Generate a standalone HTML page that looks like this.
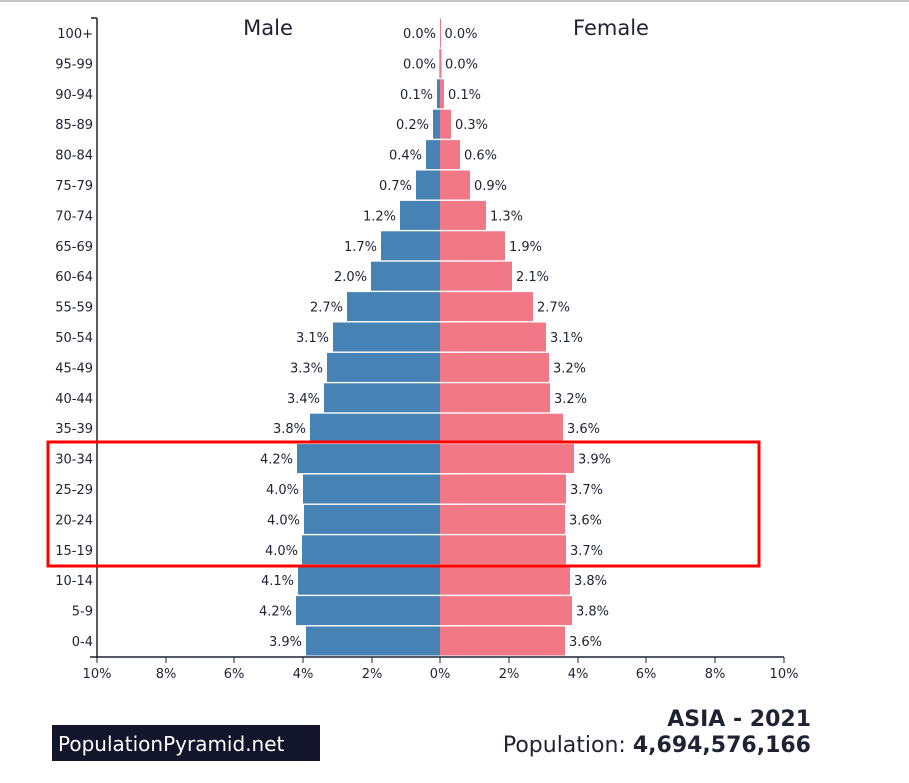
<!DOCTYPE html>
<html><head><meta charset="utf-8"><style>body{margin:0;background:#fff}svg{display:block}text{font-family:"DejaVu Sans","Liberation Sans",sans-serif;fill:#1f2233}.m{fill:#4682b4}.f{fill:#f07887}</style></head><body>
<svg width="909" height="783" xmlns="http://www.w3.org/2000/svg">
<line x1="0" y1="1" x2="909" y2="1" stroke="#c8c8c8" stroke-width="2"/>
<text x="268" y="35" font-size="21" text-anchor="middle">Male</text>
<text x="611" y="35" font-size="21" text-anchor="middle">Female</text>
<g>
<rect class="m" x="439.5" y="48.9" width="0.5" height="29"/><rect class="f" x="440" y="18.5" width="1" height="29"/><rect class="f" x="440" y="48.9" width="1.5" height="29"/>
<rect class="m" x="437" y="79.3" width="3" height="29"/><rect class="f" x="440" y="79.3" width="4" height="29"/>
<rect class="m" x="433" y="109.7" width="7" height="29"/><rect class="f" x="440" y="109.7" width="11" height="29"/>
<rect class="m" x="426" y="140.1" width="14" height="29"/><rect class="f" x="440" y="140.1" width="20" height="29"/>
<rect class="m" x="416" y="170.5" width="24" height="29"/><rect class="f" x="440" y="170.5" width="30" height="29"/>
<rect class="m" x="400" y="200.9" width="40" height="29"/><rect class="f" x="440" y="200.9" width="46" height="29"/>
<rect class="m" x="381" y="231.3" width="59" height="29"/><rect class="f" x="440" y="231.3" width="65" height="29"/>
<rect class="m" x="371" y="261.7" width="69" height="29"/><rect class="f" x="440" y="261.7" width="72" height="29"/>
<rect class="m" x="347" y="292.1" width="93" height="29"/><rect class="f" x="440" y="292.1" width="93" height="29"/>
<rect class="m" x="333" y="322.5" width="107" height="29"/><rect class="f" x="440" y="322.5" width="106" height="29"/>
<rect class="m" x="327" y="352.9" width="113" height="29"/><rect class="f" x="440" y="352.9" width="109" height="29"/>
<rect class="m" x="324" y="383.3" width="116" height="29"/><rect class="f" x="440" y="383.3" width="110" height="29"/>
<rect class="m" x="310" y="413.7" width="130" height="29"/><rect class="f" x="440" y="413.7" width="123" height="29"/>
<rect class="m" x="297" y="444.1" width="143" height="29"/><rect class="f" x="440" y="444.1" width="134" height="29"/>
<rect class="m" x="303" y="474.5" width="137" height="29"/><rect class="f" x="440" y="474.5" width="126" height="29"/>
<rect class="m" x="304" y="504.9" width="136" height="29"/><rect class="f" x="440" y="504.9" width="125" height="29"/>
<rect class="m" x="302" y="535.3" width="138" height="29"/><rect class="f" x="440" y="535.3" width="126" height="29"/>
<rect class="m" x="298" y="565.7" width="142" height="29"/><rect class="f" x="440" y="565.7" width="130" height="29"/>
<rect class="m" x="296" y="596.1" width="144" height="29"/><rect class="f" x="440" y="596.1" width="132" height="29"/>
<rect class="m" x="306" y="626.5" width="134" height="29"/><rect class="f" x="440" y="626.5" width="125" height="29"/>
</g>
<g font-size="13" text-anchor="end">
<text x="436" y="38">0.0%</text><text x="436" y="68.4">0.0%</text><text x="433" y="98.8">0.1%</text><text x="429" y="129.2">0.2%</text><text x="422" y="159.6">0.4%</text><text x="412" y="190">0.7%</text><text x="396" y="220.4">1.2%</text><text x="377" y="250.8">1.7%</text><text x="367" y="281.2">2.0%</text><text x="343" y="311.6">2.7%</text><text x="329" y="342">3.1%</text><text x="323" y="372.4">3.3%</text><text x="320" y="402.8">3.4%</text><text x="306" y="433.2">3.8%</text><text x="293" y="463.6">4.2%</text><text x="299" y="494">4.0%</text><text x="300" y="524.4">4.0%</text><text x="298" y="554.8">4.0%</text><text x="294" y="585.2">4.1%</text><text x="292" y="615.6">4.2%</text><text x="302" y="646">3.9%</text>
</g>
<g font-size="13">
<text x="444.5" y="38">0.0%</text><text x="445" y="68.4">0.0%</text><text x="448" y="98.8">0.1%</text><text x="455" y="129.2">0.3%</text><text x="464" y="159.6">0.6%</text><text x="474" y="190">0.9%</text><text x="490" y="220.4">1.3%</text><text x="509" y="250.8">1.9%</text><text x="516" y="281.2">2.1%</text><text x="537" y="311.6">2.7%</text><text x="550" y="342">3.1%</text><text x="553" y="372.4">3.2%</text><text x="554" y="402.8">3.2%</text><text x="567" y="433.2">3.6%</text><text x="578" y="463.6">3.9%</text><text x="570" y="494">3.7%</text><text x="569" y="524.4">3.6%</text><text x="570" y="554.8">3.7%</text><text x="574" y="585.2">3.8%</text><text x="576" y="615.6">3.8%</text><text x="569" y="646">3.6%</text>
</g>
<g font-size="13" text-anchor="end">
<text x="93" y="38">100+</text><text x="93" y="68.4">95-99</text><text x="93" y="98.8">90-94</text><text x="93" y="129.2">85-89</text><text x="93" y="159.6">80-84</text><text x="93" y="190">75-79</text><text x="93" y="220.4">70-74</text><text x="93" y="250.8">65-69</text><text x="93" y="281.2">60-64</text><text x="93" y="311.6">55-59</text><text x="93" y="342">50-54</text><text x="93" y="372.4">45-49</text><text x="93" y="402.8">40-44</text><text x="93" y="433.2">35-39</text><text x="93" y="463.6">30-34</text><text x="93" y="494">25-29</text><text x="93" y="524.4">20-24</text><text x="93" y="554.8">15-19</text><text x="93" y="585.2">10-14</text><text x="93" y="615.6">5-9</text><text x="93" y="646">0-4</text>
</g>
<line x1="97" y1="18" x2="97" y2="658" stroke="#1f2233" stroke-width="1.5"/>
<line x1="91" y1="18" x2="97" y2="18" stroke="#1f2233" stroke-width="1.5"/>
<line x1="90" y1="657" x2="784" y2="657" stroke="#1f2233" stroke-width="1.5"/>
<g font-size="13" text-anchor="middle">
<text x="97" y="678">10%</text><text x="166" y="678">8%</text><text x="234" y="678">6%</text><text x="303" y="678">4%</text><text x="372" y="678">2%</text><text x="440" y="678">0%</text><text x="509" y="678">2%</text><text x="578" y="678">4%</text><text x="646" y="678">6%</text><text x="715" y="678">8%</text><text x="784" y="678">10%</text>
</g>
<g stroke="#1f2233" stroke-width="1">
<line x1="97" y1="657" x2="97" y2="663"/><line x1="166" y1="657" x2="166" y2="663"/><line x1="234" y1="657" x2="234" y2="663"/><line x1="303" y1="657" x2="303" y2="663"/><line x1="372" y1="657" x2="372" y2="663"/><line x1="440" y1="657" x2="440" y2="663"/><line x1="509" y1="657" x2="509" y2="663"/><line x1="578" y1="657" x2="578" y2="663"/><line x1="646" y1="657" x2="646" y2="663"/><line x1="715" y1="657" x2="715" y2="663"/><line x1="784" y1="657" x2="784" y2="663"/>
</g>
<rect x="48" y="442" width="711" height="124" fill="none" stroke="#f00" stroke-width="3"/>
<rect x="52" y="725" width="268" height="36" fill="#12152b"/>
<text x="58" y="751" font-size="20" style="fill:#fff">PopulationPyramid.net</text>
<text x="811" y="726" font-size="22" font-weight="bold" text-anchor="end">ASIA - 2021</text>
<text x="811" y="752" font-size="22" text-anchor="end">Population: <tspan font-weight="bold">4,694,576,166</tspan></text>
</svg>
</body></html>
